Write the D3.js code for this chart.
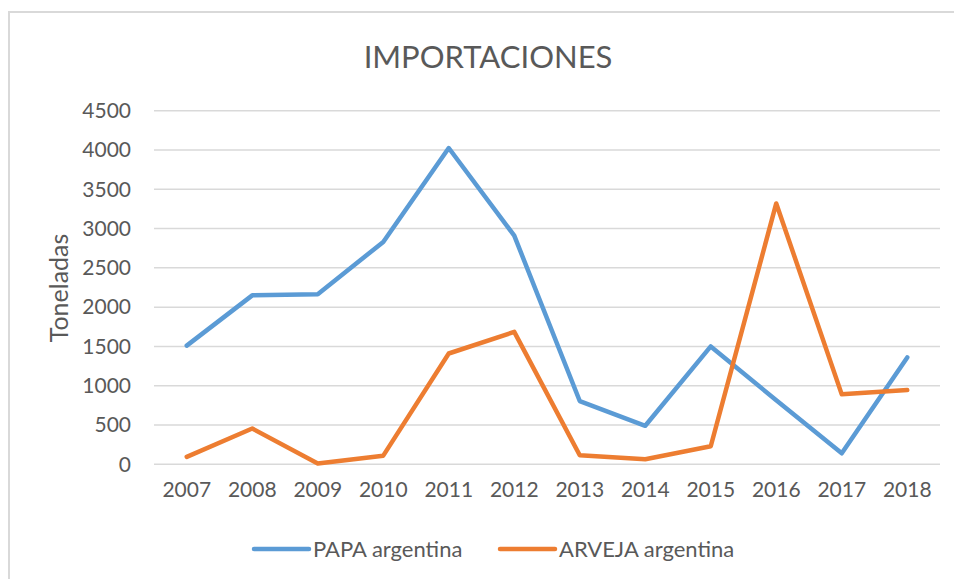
<!DOCTYPE html>
<html>
<head>
<meta charset="utf-8">
<script src="https://cdn.jsdelivr.net/npm/d3@7"></script>
<style>
  body { margin: 0; background: #fff; }
  svg text { font-family: Lato, "Open Sans", sans-serif; fill: #595959; }
</style>
</head>
<body>
<svg id="chart" width="954" height="579"></svg>
<script>
// data
var years = ["2007", "2008", "2009", "2010", "2011", "2012", "2013", "2014", "2015", "2016", "2017", "2018"];
var papa = [1510, 2150, 2165, 2830, 4025, 2910, 805, 490, 1500, 815, 140, 1360];
var arveja = [95, 455, 10, 110, 1410, 1685, 115, 65, 230, 3320, 890, 945];
var yTicks = [0, 500, 1000, 1500, 2000, 2500, 3000, 3500, 4000, 4500];
var seriesNames = ["PAPA argentina", "ARVEJA argentina"];
var seriesColors = ["#5B9BD5", "#ED7D31"];

var svg = d3.select("#chart");

// chart border (runs off right and bottom, like the screenshot)
svg.append("rect")
  .attr("x", 9).attr("y", 12)
  .attr("width", 980).attr("height", 600)
  .attr("fill", "none")
  .attr("stroke", "#d9d9d9")
  .attr("stroke-width", 2);

var plot = { left: 154, right: 940, top: 110.7, bottom: 464.3 };

var x = d3.scaleBand().domain(years).range([plot.left, plot.right]);
var y = d3.scaleLinear().domain([0, 4500]).range([plot.bottom, plot.top]);

// gridlines
svg.append("g")
  .selectAll("line")
  .data(yTicks)
  .enter()
  .append("line")
  .attr("x1", plot.left).attr("x2", plot.right)
  .attr("y1", function(d) { return y(d); })
  .attr("y2", function(d) { return y(d); })
  .attr("stroke", "#d9d9d9")
  .attr("stroke-width", 1.5);

// y axis labels
var yAxis = d3.axisLeft(y).tickValues(yTicks).tickFormat(d3.format("d")).tickSize(0).tickPadding(0);
var yg = svg.append("g").attr("transform", "translate(131,0)").call(yAxis);
yg.select(".domain").remove();
yg.selectAll("text").attr("font-size", 21).attr("fill", "#595959");

// x axis labels
var xAxis = d3.axisBottom(x).tickSize(0).tickPadding(0);
var xg = svg.append("g").attr("transform", "translate(0,482)").call(xAxis);
xg.select(".domain").remove();
xg.selectAll("text").attr("font-size", 21).attr("fill", "#595959");

// the lines
var line = d3.line()
  .x(function(d, i) { return x(years[i]) + x.bandwidth() / 2; })
  .y(function(d) { return y(d); });

[papa, arveja].forEach(function(vals, k) {
  svg.append("path")
    .datum(vals)
    .attr("d", line)
    .attr("fill", "none")
    .attr("stroke", seriesColors[k])
    .attr("stroke-width", 4.5)
    .attr("stroke-linejoin", "round")
    .attr("stroke-linecap", "round");
});

// title
svg.append("text")
  .attr("x", 488).attr("y", 68)
  .attr("text-anchor", "middle")
  .attr("font-size", 31)
  .attr("font-weight", 400)
  .text("IMPORTACIONES");

// y axis title
svg.append("text")
  .attr("transform", "translate(68,288) rotate(-90)")
  .attr("text-anchor", "middle")
  .attr("font-size", 25)
  .text("Toneladas");

// legend
var legendX = [254, 500];
seriesNames.forEach(function(name, k) {
  svg.append("line")
    .attr("x1", legendX[k]).attr("x2", legendX[k] + 55)
    .attr("y1", 549).attr("y2", 549)
    .attr("stroke", seriesColors[k])
    .attr("stroke-width", 4.5)
    .attr("stroke-linecap", "round");
  svg.append("text")
    .attr("x", legendX[k] + 59).attr("y", 557)
    .attr("font-size", 22)
    .text(name);
});
</script>
</body>
</html>
